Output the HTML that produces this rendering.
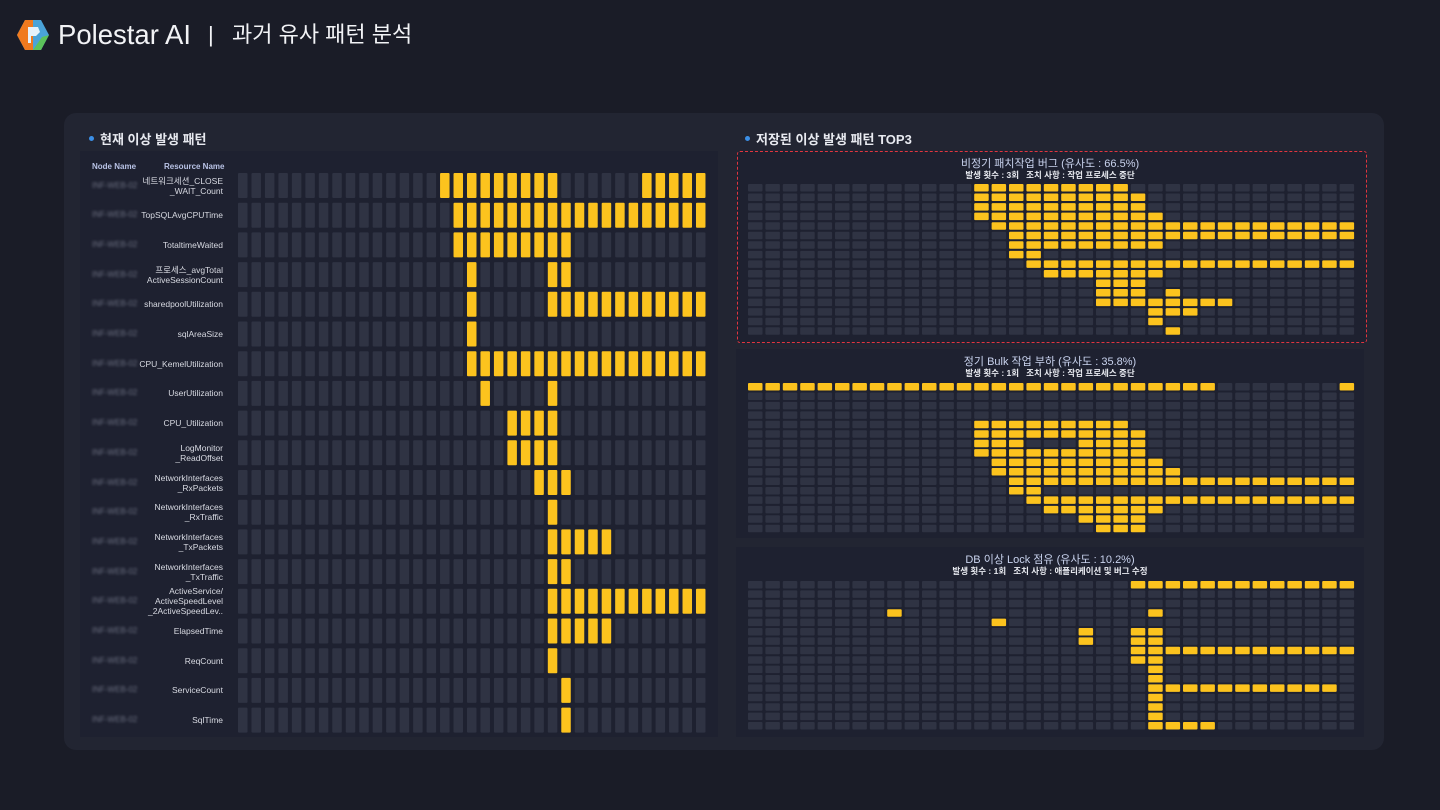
<!DOCTYPE html>
<html><head><meta charset="utf-8">
<style>
*{margin:0;padding:0;box-sizing:border-box}
body{width:1440px;height:810px;background:#1a1c27;font-family:"Liberation Sans","Noto Sans CJK KR",sans-serif;color:#e6e8ee;position:relative;overflow:hidden}
.abs{position:absolute}
#card{left:64px;top:113px;width:1320px;height:637px;background:#222532;border-radius:12px}
.sec{font-size:13px;font-weight:bold;color:#e8eaf0}
.dot{display:inline-block;width:5px;height:5px;border-radius:50%;background:#3b8fe6;margin-right:6px;vertical-align:middle;position:relative;top:-2px}
#left{left:80px;top:151px;width:638px;height:586px;background:#1e2130}
.pan{background:#1e2130}
.lbl{font-size:8.5px;color:#d8dae2;text-align:right;width:150px;line-height:10px}
.node{font-size:8px;color:#6b6f80;filter:blur(1.2px)}
.pt{font-size:11px;color:#c9d3ee;text-align:center;width:628px}
.ps{font-size:8.5px;color:#e8eaf0;font-weight:bold;text-align:center;width:628px;white-space:pre}
</style></head><body>
<div class="abs" style="left:16px;top:19px;width:34px;height:32px">
<svg width="34" height="32" viewBox="0 0 34 32"><polygon points="9,1 25,1 33,16 25,31 9,31 1,16" fill="#4aa3d8"/><polygon points="9,1 17,1 17,31 9,31 1,16" fill="#f07a1e"/><polygon points="17,31 25,31 33,16 26,18" fill="#5cc25a"/><polygon points="12,8 22,8 24,13 20,17 15,17 15,24 12,24" fill="#e6f2fb"/></svg></div>
<div class="abs" style="left:58px;top:19px;font-size:27.5px;color:#f2f3f6;line-height:32px">Polestar AI</div>
<div class="abs" style="left:208px;top:19px;font-size:22px;color:#f2f3f6;line-height:32px">|</div>
<div class="abs" style="left:232px;top:19px;font-size:22px;color:#f2f3f6;line-height:32px">과거 유사 패턴 분석</div>
<div id="card" class="abs"></div>
<div class="abs sec" style="left:89px;top:129px"><span class="dot"></span>현재 이상 발생 패턴</div>
<div class="abs sec" style="left:745px;top:129px"><span class="dot"></span>저장된 이상 발생 패턴 TOP3</div>
<div id="left" class="abs"></div>
<div class="abs" style="left:92px;top:162px;font-size:8px;color:#b9c3e6;font-weight:bold">Node Name</div>
<div class="abs" style="left:164px;top:162px;font-size:8px;color:#b9c3e6;font-weight:bold">Resource Name</div>
<div class="abs pan" style="left:737px;top:151px;width:630px;height:192px;border:1.5px dashed #e0353f;border-radius:3px"></div>
<div class="abs pan" style="left:736px;top:349px;width:628px;height:189px"></div>
<div class="abs pan" style="left:736px;top:547px;width:628px;height:190px"></div>
<svg id="svg" class="abs" style="left:0;top:0" width="1440" height="810"></svg>
<script>
const leftRows=["네트워크세션_CLOSE\n_WAIT_Count","TopSQLAvgCPUTime","TotaltimeWaited","프로세스_avgTotal\nActiveSessionCount","sharedpoolUtilization","sqlAreaSize","CPU_KemelUtilization","UserUtilization","CPU_Utilization","LogMonitor\n_ReadOffset","NetworkInterfaces\n_RxPackets","NetworkInterfaces\n_RxTraffic","NetworkInterfaces\n_TxPackets","NetworkInterfaces\n_TxTraffic","ActiveService/\nActiveSpeedLevel\n_2ActiveSpeedLev..","ElapsedTime","ReqCount","ServiceCount","SqlTime"];
const leftActive=[[[15,23],[30,34]],[[16,34]],[[16,24]],[[17,17],[23,24]],[[17,17],[23,34]],[[17,17]],[[17,34]],[[18,18],[23,23]],[[20,23]],[[20,23]],[[22,24]],[[23,23]],[[23,27]],[[23,24]],[[23,34]],[[23,27]],[[23,23]],[[24,24]],[[24,24]]];
const p1Title="비정기 패치작업 버그 (유사도 : 66.5%)", p1Sub="발생 횟수 : 3회   조치 사항 : 작업 프로세스 중단";
const p1Active=[[[13,21]],[[13,22]],[[13,22]],[[13,23]],[[14,34]],[[15,34]],[[15,23]],[[15,16]],[[16,34]],[[17,23]],[[20,22]],[[20,22],[24,24]],[[20,27]],[[23,25]],[[23,23]],[[24,24]]];
const p2Title="정기 Bulk 작업 부하 (유사도 : 35.8%)", p2Sub="발생 횟수 : 1회   조치 사항 : 작업 프로세스 중단";
const p2Active=[[[0,26],[34,34]],[],[],[],[[13,21]],[[13,22]],[[13,15],[19,22]],[[13,22]],[[14,23]],[[14,24]],[[15,34]],[[15,16]],[[16,34]],[[17,23]],[[19,22]],[[20,22]]];
const p3Title="DB 이상 Lock 점유 (유사도 : 10.2%)", p3Sub="발생 횟수 : 1회   조치 사항 : 애플리케이션 및 버그 수정";
const p3Active=[[[22,34]],[],[],[[8,8],[23,23]],[[14,14]],[[19,19],[22,23]],[[19,19],[22,23]],[[22,34]],[[22,23]],[[23,23]],[[23,23]],[[23,33]],[[23,23]],[[23,23]],[[23,23]],[[23,26]]];
const NCOL=35;
const svg=document.getElementById('svg');
const NS='http://www.w3.org/2000/svg';
function on(ranges,c){return ranges.some(r=>c>=r[0]&&c<=r[1]);}
function rect(x,y,w,h,fill,name){const r=document.createElementNS(NS,'rect');r.setAttribute('x',x);r.setAttribute('y',y);r.setAttribute('width',w);r.setAttribute('height',h);r.setAttribute('fill',fill);r.setAttribute('rx',1);


svg.appendChild(r);}
function grid(active,x0,y0,px,py,w,h,prefix){
  active.forEach((rg,ri)=>{for(let c=0;c<NCOL;c++){const a=on(rg,c);rect(x0+c*px,y0+ri*py,w,h,a?'#fcc31e':'#2f3343',prefix+'-cell-r'+ri+'-c'+c);}});
}
grid(leftActive,238,173,13.47,29.7,9.5,25,'current');
leftRows.forEach((t,i)=>{
  const lines=t.split('\n');const cy=173+i*29.7+12.5;
  const d=document.createElement('div');d.className='abs lbl';d.style.left='73px';d.style.top=(cy-lines.length*5)+'px';d.innerHTML=lines.join('<br>');
  
  
  document.body.appendChild(d);
  const n=document.createElement('div');n.className='abs node';n.style.left='92px';n.style.top=(cy-5)+'px';n.textContent='INF-WEB-02';
  
  
  document.body.appendChild(n);
});
function panel(title,sub,active,top,rowTop,py,prefix){
  const t=document.createElement('div');t.className='abs pt';t.style.left='736px';t.style.top=(top)+'px';t.textContent=title;
  
  
  document.body.appendChild(t);
  const s=document.createElement('div');s.className='abs ps';s.style.left='736px';s.style.top=(top+14)+'px';s.textContent=sub;
  
  
  document.body.appendChild(s);
  grid(active,748,rowTop,17.4,py,14.5,7.5,prefix);
}
panel(p1Title,p1Sub,p1Active,155,184,9.55,'p1');
panel(p2Title,p2Sub,p2Active,353,383,9.45,'p2');
panel(p3Title,p3Sub,p3Active,551,581,9.4,'p3');
</script>
</body></html>
